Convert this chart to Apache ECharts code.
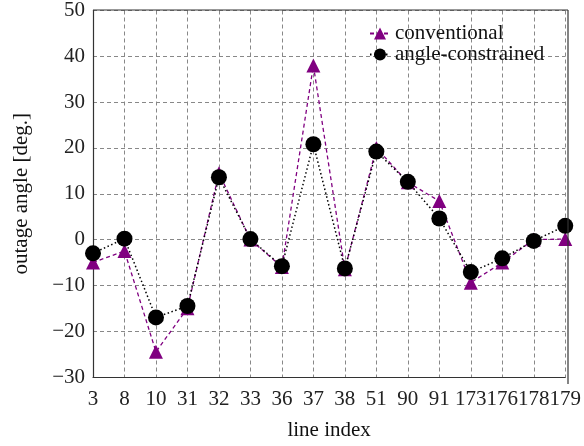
<!DOCTYPE html>
<html>
<head>
<meta charset="utf-8">
<script src="https://cdn.jsdelivr.net/npm/echarts@6/dist/echarts.min.js"></script>
<style>
  html, body { margin: 0; padding: 0; background: #fff; }
  #container { width: 584px; height: 446px; }
</style>
</head>
<body>
<div id="container"></div>
<script>
// line indices (categories)
var lineIndex = ['3', '8', '10', '31', '32', '33', '36', '37', '38', '51', '90', '91', '173', '176', '178', '179'];
// outage angle, conventional
var conventional = [-5, -2.5, -24.5, -15, 14.5, 0, -6, 38, -6.5, 20, 12.5, 8.4, -9.4, -5, 0, 0.1];
// outage angle, angle-constrained
var angleConstrained = [-3, 0.2, -17, -14.5, 13.6, 0.1, -5.8, 20.8, -6.3, 19.2, 12.6, 4.6, -7.1, -4.1, -0.3, 3];

var font = 'Liberation Serif';
var dom = document.getElementById('container');
var myChart = echarts.init(dom, null, { renderer: 'canvas' });

var option = {
    animation: false,
    backgroundColor: '#fff',
    textStyle: { fontFamily: font },
    grid: { left: 93, right: 16, top: 10, bottom: 62 },
    legend: {
        left: 364, top: 18,
        orient: 'vertical',
        itemWidth: 20, itemHeight: 15, itemGap: 0,
        textStyle: { fontFamily: font, fontSize: 21, color: '#111' },
        data: ['conventional', 'angle-constrained']
    },
    xAxis: {
        type: 'category',
        data: lineIndex,
        boundaryGap: false,
        name: 'line index',
        nameLocation: 'middle',
        nameGap: 43,
        nameTextStyle: { fontFamily: font, fontSize: 21, color: '#111' },
        axisLine: { show: true, onZero: false, lineStyle: { color: '#333', width: 1.2 } },
        axisTick: { show: false },
        axisLabel: { fontFamily: font, fontSize: 21, color: '#222', margin: 12, interval: 0 },
        splitLine: { show: true, lineStyle: { color: '#888', type: [4, 3], width: 1 } }
    },
    yAxis: {
        type: 'value',
        min: -30, max: 50, interval: 10,
        name: 'outage angle [deg.]',
        nameLocation: 'middle',
        nameGap: 61,
        nameTextStyle: { fontFamily: font, fontSize: 21, color: '#111' },
        axisLine: { show: true, lineStyle: { color: '#333', width: 1.2 } },
        axisTick: { show: false },
        axisLabel: { fontFamily: font, fontSize: 21, color: '#222', margin: 8,
            formatter: function (v) { return v < 0 ? '\u2212' + (-v) : '' + v; } },
        splitLine: { show: true, lineStyle: { color: '#888', type: [4, 3], width: 1 } }
    },
    series: [
        {
            name: 'conventional',
            type: 'line',
            data: conventional,
            symbol: 'triangle',
            symbolSize: 14,
            color: '#800080',
            lineStyle: { color: '#800080', width: 1.3, type: [4, 3] },
            itemStyle: { color: '#800080' },
            z: 2
        },
        {
            name: 'angle-constrained',
            type: 'line',
            data: angleConstrained,
            symbol: 'circle',
            symbolSize: 16,
            color: '#000',
            lineStyle: { color: '#000', width: 1.5, type: [1.5, 2.5] },
            itemStyle: { color: '#000' },
            z: 3
        }
    ],
    graphic: [
        // top and right frame lines
        { type: 'line', shape: { x1: 93, y1: 10, x2: 568, y2: 10 }, style: { stroke: '#333', lineWidth: 1.2 }, z: 10 },
        { type: 'line', shape: { x1: 568, y1: 10, x2: 568, y2: 384 }, style: { stroke: '#333', lineWidth: 1.2 }, z: 10 }
    ]
};

if (option && typeof option === "object") {
    myChart.setOption(option, true);
}
</script>
</body>
</html>
